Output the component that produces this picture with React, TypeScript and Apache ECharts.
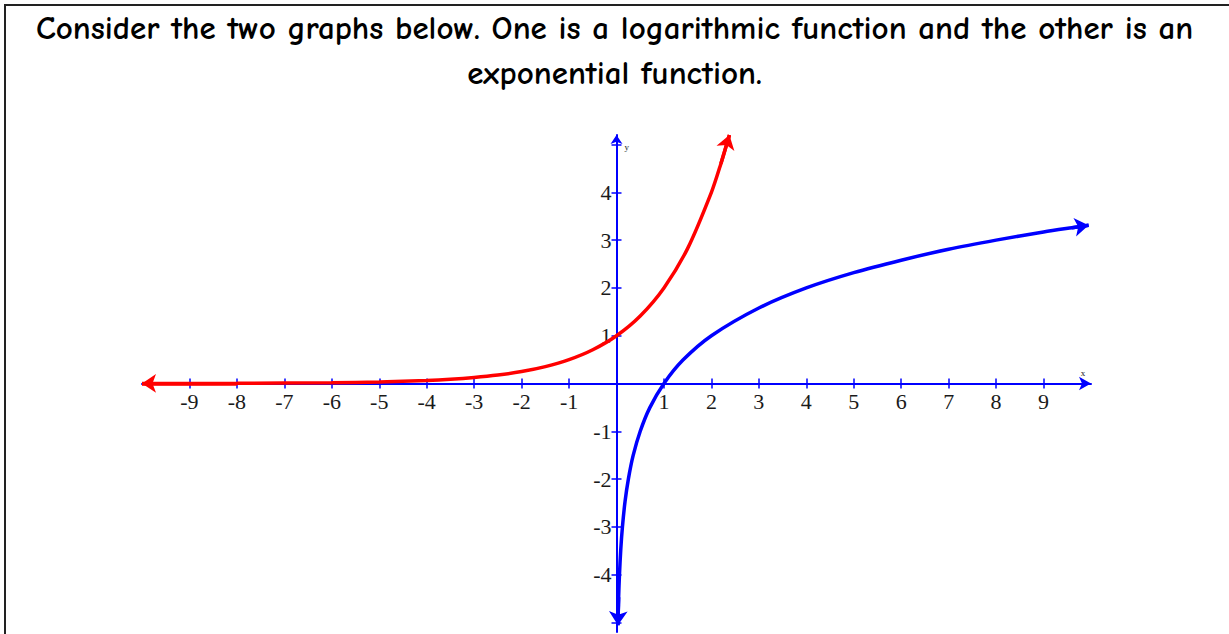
import React, { useEffect, useRef } from "react";
import * as echarts from "echarts";

const titleText =
  "Consider the two graphs below. One is a logarithmic function and the other is an\nexponential function.";
const xTickValues = [-9, -8, -7, -6, -5, -4, -3, -2, -1, 1, 2, 3, 4, 5, 6, 7, 8, 9];
const yTickValues = [-5, -4, -3, -2, -1, 1, 2, 3, 4, 5];
const yLabelValues = [-4, -3, -2, -1, 1, 2, 3, 4];

// exponential curve (red)
const expX = [-10, -8, -6, -5, -4, -3.5, -3, -2.5, -2, -1.5, -1, -0.5, 0, 0.5, 1, 1.5, 2, 2.2, 2.38];
const expY = [0.001, 0.004, 0.016, 0.031, 0.063, 0.088, 0.125, 0.177, 0.25, 0.354, 0.5, 0.707, 1, 1.414, 2, 2.828, 4, 4.6, 5.2];
// logarithmic curve (blue)
const logX = [0.03, 0.045, 0.0625, 0.09, 0.125, 0.18, 0.25, 0.35, 0.5, 0.7, 1, 1.4, 2, 3, 4, 5, 6, 7, 8, 9, 9.6, 9.95];
const logY = [-5.06, -4.47, -4, -3.47, -3, -2.47, -2, -1.51, -1, -0.51, 0, 0.49, 1, 1.58, 2, 2.32, 2.58, 2.81, 3, 3.17, 3.26, 3.31];

const X_MIN = -10;
const X_MAX = 10;
const Y_MIN = -5.2;
const Y_MAX = 5.2;

const RED = "#ff0000";
const BLUE = "#0000ff";
const LABEL = "#1a1a1a";
const SERIF = "Liberation Serif";

const W = 1229;
const H = 634;
const GRID = { left: 142, right: 138, top: 135, bottom: 2 };

export default function App() {
  const ref = useRef<HTMLDivElement>(null);
  useEffect(() => {
    if (!ref.current) return;
    const chart = echarts.init(ref.current, undefined, { renderer: "svg" });
    const expData = expX.map((x, i) => [x, expY[i]]);
    const logData = logX.map((x, i) => [x, logY[i]]);
    const n1 = expData.length;
    const n2 = logData.length;

    const gw = W - GRID.left - GRID.right;
    const gh = H - GRID.top - GRID.bottom;
    // distance from grid's bottom edge to y=0, and from left edge to x=0
    const xAxisOffset = -(gh * (0 - Y_MIN)) / (Y_MAX - Y_MIN);
    const yAxisOffset = -(gw * (0 - X_MIN)) / (X_MAX - X_MIN);

    const tickStyle = { color: BLUE, width: 1.5 };
    const labelRich = {
      t: { fontSize: 22, fontFamily: SERIF, color: LABEL },
    };
    chart.setOption({
      animation: false,
      backgroundColor: "#ffffff",
      title: {
        text: titleText,
        left: "center",
        top: 5,
        padding: 0,
        textStyle: {
          fontFamily: '"Comic Sans MS", "Comic Neue", "DejaVu Sans", sans-serif',
          fontSize: 33,
          fontWeight: "bold",
          color: "#000",
          lineHeight: 45,
        },
      },
      graphic: [
        {
          type: "rect",
          shape: { x: 5, y: 5, width: 1240, height: 640 },
          style: { fill: "none", stroke: "#222", lineWidth: 2 },
          silent: true,
        },
      ],
      grid: { ...GRID, outerBoundsMode: "none", containLabel: false },
      xAxis: [
        {
          type: "value",
          min: X_MIN,
          max: X_MAX,
          position: "bottom",
          offset: xAxisOffset,
          splitLine: { show: false },
          name: "x",
          nameLocation: "end",
          nameGap: -8,
          nameTextStyle: {
            fontSize: 9,
            fontFamily: SERIF,
            color: LABEL,
            align: "center",
            verticalAlign: "bottom",
            padding: [0, 0, 6, 0],
          },
          axisLine: {
            show: true,
            onZero: false,
            symbol: ["none", "arrow"],
            symbolSize: [10, 12],
            lineStyle: { color: BLUE, width: 2 },
          },
          axisTick: {
            show: true,
            inside: false,
            length: 5,
            customValues: xTickValues,
            lineStyle: tickStyle,
          },
          axisLabel: {
            show: true,
            customValues: xTickValues,
            margin: 7,
            color: LABEL,
            fontFamily: SERIF,
            fontSize: 22,
            formatter: (v: number) => `{t|${v}}`,
            rich: labelRich,
          },
        },
        {
          type: "value",
          min: X_MIN,
          max: X_MAX,
          position: "bottom",
          offset: xAxisOffset,
          splitLine: { show: false },
          axisLine: { show: false, onZero: false },
          axisTick: {
            show: true,
            inside: true,
            length: 5,
            customValues: xTickValues,
            lineStyle: tickStyle,
          },
          axisLabel: { show: false },
        },
      ],
      yAxis: [
        {
          type: "value",
          min: Y_MIN,
          max: Y_MAX,
          position: "left",
          offset: yAxisOffset,
          splitLine: { show: false },
          name: "y",
          nameLocation: "end",
          nameGap: -12,
          nameTextStyle: {
            fontSize: 9,
            fontFamily: SERIF,
            color: LABEL,
            align: "left",
            verticalAlign: "middle",
            padding: [0, 0, 0, 8],
          },
          axisLine: {
            show: true,
            onZero: false,
            symbol: ["none", "arrow"],
            symbolSize: [9, 9],
            lineStyle: { color: BLUE, width: 2 },
          },
          axisTick: {
            show: true,
            inside: false,
            length: 5,
            customValues: yTickValues,
            lineStyle: tickStyle,
          },
          axisLabel: {
            show: true,
            customValues: yLabelValues,
            margin: 5,
            color: LABEL,
            fontFamily: SERIF,
            fontSize: 22,
            formatter: (v: number) => `{t|${v}}`,
            rich: labelRich,
          },
        },
        {
          type: "value",
          min: Y_MIN,
          max: Y_MAX,
          position: "left",
          offset: yAxisOffset,
          splitLine: { show: false },
          axisLine: { show: false, onZero: false },
          axisTick: {
            show: true,
            inside: true,
            length: 5,
            customValues: yTickValues,
            lineStyle: tickStyle,
          },
          axisLabel: { show: false },
        },
      ],
      series: [
        {
          type: "line",
          name: "log",
          xAxisIndex: 0,
          yAxisIndex: 0,
          data: logData,
          smooth: 0.3,
          showSymbol: false,
          clip: false,
          lineStyle: { color: BLUE, width: 3.5 },
          z: 3,
        },
        {
          type: "line",
          name: "exp",
          xAxisIndex: 0,
          yAxisIndex: 0,
          data: expData,
          smooth: 0.3,
          showSymbol: false,
          clip: false,
          lineStyle: { color: RED, width: 3.5 },
          z: 4,
        },
        {
          type: "lines",
          coordinateSystem: "cartesian2d",
          xAxisIndex: 0,
          yAxisIndex: 0,
          symbol: ["none", "arrow"],
          symbolSize: 14,
          silent: true,
          lineStyle: { width: 3.5, opacity: 1 },
          data: [
            { coords: [expData[n1 - 2], expData[n1 - 1]], lineStyle: { color: RED } },
            { coords: [expData[1], expData[0]], lineStyle: { color: RED } },
            { coords: [logData[n2 - 2], logData[n2 - 1]], lineStyle: { color: BLUE } },
            { coords: [logData[1], logData[0]], lineStyle: { color: BLUE } },
          ],
          z: 5,
        },
      ],
    });
    return () => chart.dispose();
  }, []);
  return (
    <div
      ref={ref}
      style={{ position: "fixed", left: 0, top: 0, width: W, height: H }}
    />
  );
}
